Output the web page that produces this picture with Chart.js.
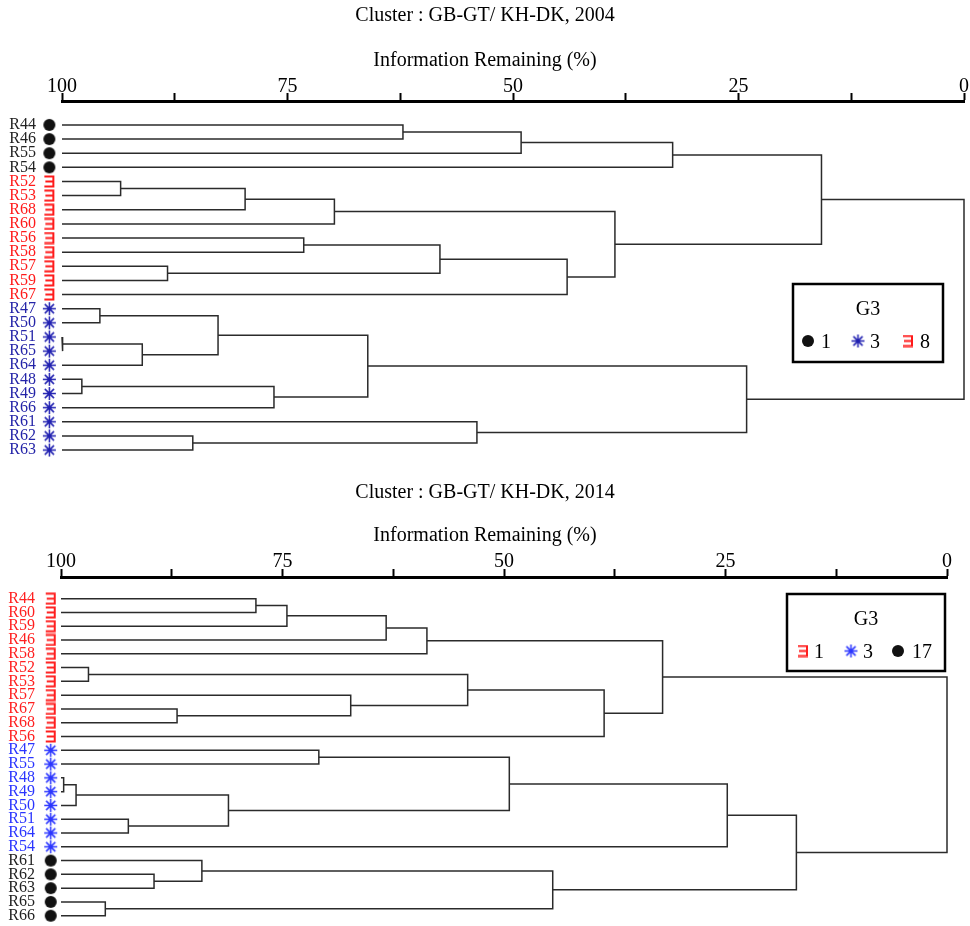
<!DOCTYPE html>
<html>
<head>
<meta charset="utf-8">
<script src="https://cdn.jsdelivr.net/npm/chart.js@4.4.1/dist/chart.umd.min.js"></script>
<style>
  html, body { margin: 0; padding: 0; background: #fff; }
  .wrap { position: absolute; left: 0; width: 970px; }
  #top { top: 0; height: 470px; }
  #bottom { top: 470px; height: 456px; }
</style>
</head>
<body>
<div class="wrap" id="top"><canvas id="tree2004"></canvas></div>
<div class="wrap" id="bottom"><canvas id="tree2014"></canvas></div>
<script>
const FONT = '"Liberation Serif", "Times New Roman", serif';

// axis ticks (information remaining, %)
const xTicks = [100, 87.5, 75, 62.5, 50, 37.5, 25, 12.5, 0];
const xTickLabels = ["100", "", "75", "", "50", "", "25", "", "0"];

// ---- 2004 ----
const leaves2004 = ["R44","R46","R55","R54","R52","R53","R68","R60","R56","R58","R57","R59","R67",
  "R47","R50","R51","R65","R64","R48","R49","R66","R61","R62","R63"];
const groups2004 = ["dot","dot","dot","dot","e","e","e","e","e","e","e","e","e",
  "star","star","star","star","star","star","star","star","star","star","star"];
// [left, right, info remaining %] ; numbers refer to earlier merges
const merges2004 = [
  ["R44", "R46", 62.2],   // 0
  [0, "R55", 49.1],
  [1, "R54", 32.3],
  ["R52", "R53", 93.5],
  [3, "R68", 79.7],
  [4, "R60", 69.8],       // 5
  ["R56", "R58", 73.2],
  ["R57", "R59", 88.3],
  [6, 7, 58.1],
  [8, "R67", 44.0],
  [5, 9, 38.7],           // 10
  [2, 10, 15.8],
  ["R47", "R50", 95.8],
  ["R51", "R65", 99.9],
  [13, "R64", 91.1],
  [12, 14, 82.7],         // 15
  ["R48", "R49", 97.8],
  [16, "R66", 76.5],
  [15, 17, 66.1],
  ["R62", "R63", 85.5],
  ["R61", 19, 54.0],      // 20
  [18, 20, 24.1],
  [11, 21, 0]
];
const legendKeys2004 = ["dot", "star", "e"];
const legendLabels2004 = ["1", "3", "8"];

// ---- 2014 ----
const leaves2014 = ["R44","R60","R59","R46","R58","R52","R53","R57","R67","R68","R56",
  "R47","R55","R48","R49","R50","R51","R64","R54","R61","R62","R63","R65","R66"];
const groups2014 = ["e","e","e","e","e","e","e","e","e","e","e",
  "star","star","star","star","star","star","star","star","dot","dot","dot","dot","dot"];
const merges2014 = [
  ["R44", "R60", 78.0],   // 0
  [0, "R59", 74.5],
  [1, "R46", 63.3],
  [2, "R58", 58.7],
  ["R52", "R53", 96.9],
  ["R67", "R68", 86.9],   // 5
  ["R57", 5, 67.3],
  [4, 6, 54.1],
  [7, "R56", 38.7],
  [3, 8, 32.1],
  ["R47", "R55", 70.9],   // 10
  ["R48", "R49", 99.7],
  [11, "R50", 98.3],
  ["R51", "R64", 92.4],
  [12, 13, 81.1],
  [10, 14, 49.4],         // 15
  [15, "R54", 24.8],
  ["R62", "R63", 89.5],
  ["R61", 17, 84.1],
  ["R65", "R66", 95.0],
  [18, 19, 44.5],         // 20
  [16, 20, 17.0],
  [9, 21, 0]
];
const legendKeys2014 = ["e", "star", "dot"];
const legendLabels2014 = ["1", "3", "17"];

function makeMarkers(colors) {
  const out = {};
  let cv = document.createElement("canvas");
  cv.width = 14; cv.height = 14;
  let c = cv.getContext("2d");
  c.fillStyle = colors.dot;
  c.beginPath(); c.arc(7, 7, 6, 0, Math.PI * 2); c.fill();
  out.dot = cv;

  cv = document.createElement("canvas");
  cv.width = 15; cv.height = 15;
  c = cv.getContext("2d");
  c.strokeStyle = colors.star; c.lineWidth = 1.5;
  c.beginPath();
  for (let k = 0; k < 4; k++) {
    const a = k * Math.PI / 4;
    c.moveTo(7.5 - 6.5 * Math.cos(a), 7.5 - 6.5 * Math.sin(a));
    c.lineTo(7.5 + 6.5 * Math.cos(a), 7.5 + 6.5 * Math.sin(a));
  }
  c.stroke();
  out.star = cv;

  cv = document.createElement("canvas");
  cv.width = 12; cv.height = 13;
  c = cv.getContext("2d");
  c.strokeStyle = colors.e; c.lineWidth = 2;
  c.beginPath();
  c.moveTo(1, 1.5); c.lineTo(11, 1.5);
  c.moveTo(2, 6.5); c.lineTo(11, 6.5);
  c.moveTo(1, 11.5); c.lineTo(11, 11.5);
  c.moveTo(10, 0.5); c.lineTo(10, 12.5);
  c.stroke();
  out.e = cv;
  return out;
}

// one "]" shaped segment per merge, leaves start at 100 %
function buildTree(leaves, merges) {
  const pos = {};
  leaves.forEach((n, i) => { pos[n] = { y: i, h: 100 }; });
  const nodes = [];
  const get = ref => typeof ref === "number" ? nodes[ref] : pos[ref];
  return merges.map(([a, b, h]) => {
    const A = get(a), B = get(b);
    nodes.push({ y: (A.y + B.y) / 2, h: h });
    return [{ x: A.h, y: A.y }, { x: h, y: A.y }, { x: h, y: B.y }, { x: B.h, y: B.y }];
  });
}

const legendBox = {
  id: "legendBox",
  afterDraw(chart, args, o) {
    const ctx = chart.ctx;
    ctx.save();
    ctx.lineWidth = 2.5;
    ctx.strokeStyle = "#000";
    ctx.strokeRect(o.box[0], o.box[1], o.box[2], o.box[3]);
    ctx.fillStyle = "#000";
    ctx.font = "20px " + FONT;
    ctx.textAlign = "center";
    ctx.textBaseline = "alphabetic";
    ctx.fillText("G3", o.box[0] + o.box[2] / 2, o.titleY + 6.6);
    ctx.textAlign = "left";
    o.keys.forEach((k, i) => {
      const m = o.markers[k];
      ctx.drawImage(m, o.markX[i] - m.width / 2, o.itemY - m.height / 2);
      ctx.fillText(o.labels[i], o.textX[i], o.itemY + 6.6);
    });
    ctx.restore();
  }
};

function makeChart(id, cfg) {
  const markers = makeMarkers(cfg.colors);
  const segs = buildTree(cfg.leaves, cfg.merges);
  const datasets = segs.map(s => ({
    type: "line",
    data: s,
    showLine: true,
    borderColor: "#2b2b2b",
    borderWidth: 1.5,
    pointRadius: 0,
    fill: false,
    tension: 0,
    clip: false
  }));
  // leaf symbols, just left of the 100 % edge
  // (big radius only widens the in-area test, the image keeps its own size)
  datasets.push({
    type: "scatter",
    indexAxis: "y",
    data: cfg.leaves.map((_, i) => ({ x: cfg.markerX, y: i })),
    pointStyle: cfg.groups.map(g => markers[g]),
    pointRadius: 24,
    hoverRadius: 24,
    pointBorderWidth: 0,
    showLine: false,
    clip: false
  });

  return new Chart(document.getElementById(id), {
    type: "scatter",
    data: { datasets: datasets },
    plugins: [legendBox],
    options: {
      responsive: true,
      maintainAspectRatio: false,
      animation: false,
      events: [],
      layout: { autoPadding: false, padding: { left: 0, right: 0, top: 0, bottom: cfg.padBottom } },
      plugins: {
        legend: { display: false },
        tooltip: { enabled: false },
        title: {
          display: true,
          text: cfg.title,
          color: "#000",
          font: { family: FONT, size: 20, weight: "normal" },
          padding: { top: cfg.titleTop, bottom: 0 }
        },
        subtitle: {
          display: true,
          text: "Information Remaining (%)",
          color: "#000",
          font: { family: FONT, size: 20, weight: "normal" },
          padding: { top: cfg.subTop, bottom: 0 }
        },
        legendBox: {
          markers: markers,
          keys: cfg.legendKeys,
          labels: cfg.legendLabels,
          box: cfg.legendPos.box,
          titleY: cfg.legendPos.titleY,
          itemY: cfg.legendPos.itemY,
          markX: cfg.legendPos.markX,
          textX: cfg.legendPos.textX
        }
      },
      scales: {
        x: {
          type: "linear",
          position: "top",
          min: 0,
          max: 100,
          reverse: true,
          afterBuildTicks: s => { s.ticks = xTicks.map(v => ({ value: v })); },
          afterFit: s => { s.height = cfg.xHeight; },
          ticks: {
            autoSkip: false,
            maxRotation: 0,
            padding: cfg.xTickPad,
            color: "#000",
            font: { family: FONT, size: 20 },
            callback: v => xTickLabels[xTicks.indexOf(v)]
          },
          grid: { drawOnChartArea: false, tickLength: 8, tickWidth: 2, tickColor: "#000" },
          border: { display: true, width: 3, color: "#000" }
        },
        y: {
          type: "linear",
          min: cfg.yMin,
          max: cfg.yMax,
          reverse: true,
          afterBuildTicks: s => { s.ticks = cfg.leaves.map((_, i) => ({ value: i })); },
          afterFit: s => { s.width = cfg.left; s.paddingTop = 0; s.paddingBottom = 0; },
          ticks: {
            autoSkip: false,
            padding: 26,
            font: { family: FONT, size: 16 },
            color: c => cfg.labelColors[cfg.groups[c.index]],
            callback: v => cfg.leaves[v]
          },
          grid: { display: false, drawTicks: false },
          border: { display: false }
        },
        gap: {
          type: "linear",
          position: "right",
          afterFit: s => { s.width = cfg.rightGap; s.paddingTop = 0; s.paddingBottom = 0; },
          ticks: { display: false },
          grid: { display: false, drawTicks: false },
          border: { display: false }
        }
      }
    }
  });
}

makeChart("tree2004", {
  title: "Cluster : GB-GT/ KH-DK, 2004",
  leaves: leaves2004,
  groups: groups2004,
  merges: merges2004,
  legendKeys: legendKeys2004,
  legendLabels: legendLabels2004,
  colors: { dot: "#111", star: "#1f1fb0", e: "#ff1a1a" },
  labelColors: { dot: "#222", star: "#2424a8", e: "#ff1a1a" },
  markerX: 101.4,
  left: 62,
  rightGap: 6,
  padBottom: 5,
  titleTop: 4,
  subTop: 21,
  xHeight: 28,
  xTickPad: -6,
  yMin: -1.693,
  yMax: 24.058,
  legendPos: { box: [793, 284, 150, 78], titleY: 308, itemY: 341,
               markX: [808, 858, 908], textX: [821, 870, 920] }
});

makeChart("tree2014", {
  title: "Cluster : GB-GT/ KH-DK, 2014",
  leaves: leaves2014,
  groups: groups2014,
  merges: merges2014,
  legendKeys: legendKeys2014,
  legendLabels: legendLabels2014,
  colors: { dot: "#111", star: "#2a35ff", e: "#ff1f1f" },
  labelColors: { dot: "#222", star: "#2a35ff", e: "#ff1f1f" },
  markerX: 101.16,
  left: 61,
  rightGap: 23,
  padBottom: 4,
  titleTop: 11,
  subTop: 19,
  xHeight: 29,
  xTickPad: -5,
  yMin: -1.569,
  yMax: 23.456,
  legendPos: { box: [787, 124, 158, 77], titleY: 148, itemY: 181,
               markX: [803, 851, 898], textX: [814, 863, 912] }
});
</script>
</body>
</html>
